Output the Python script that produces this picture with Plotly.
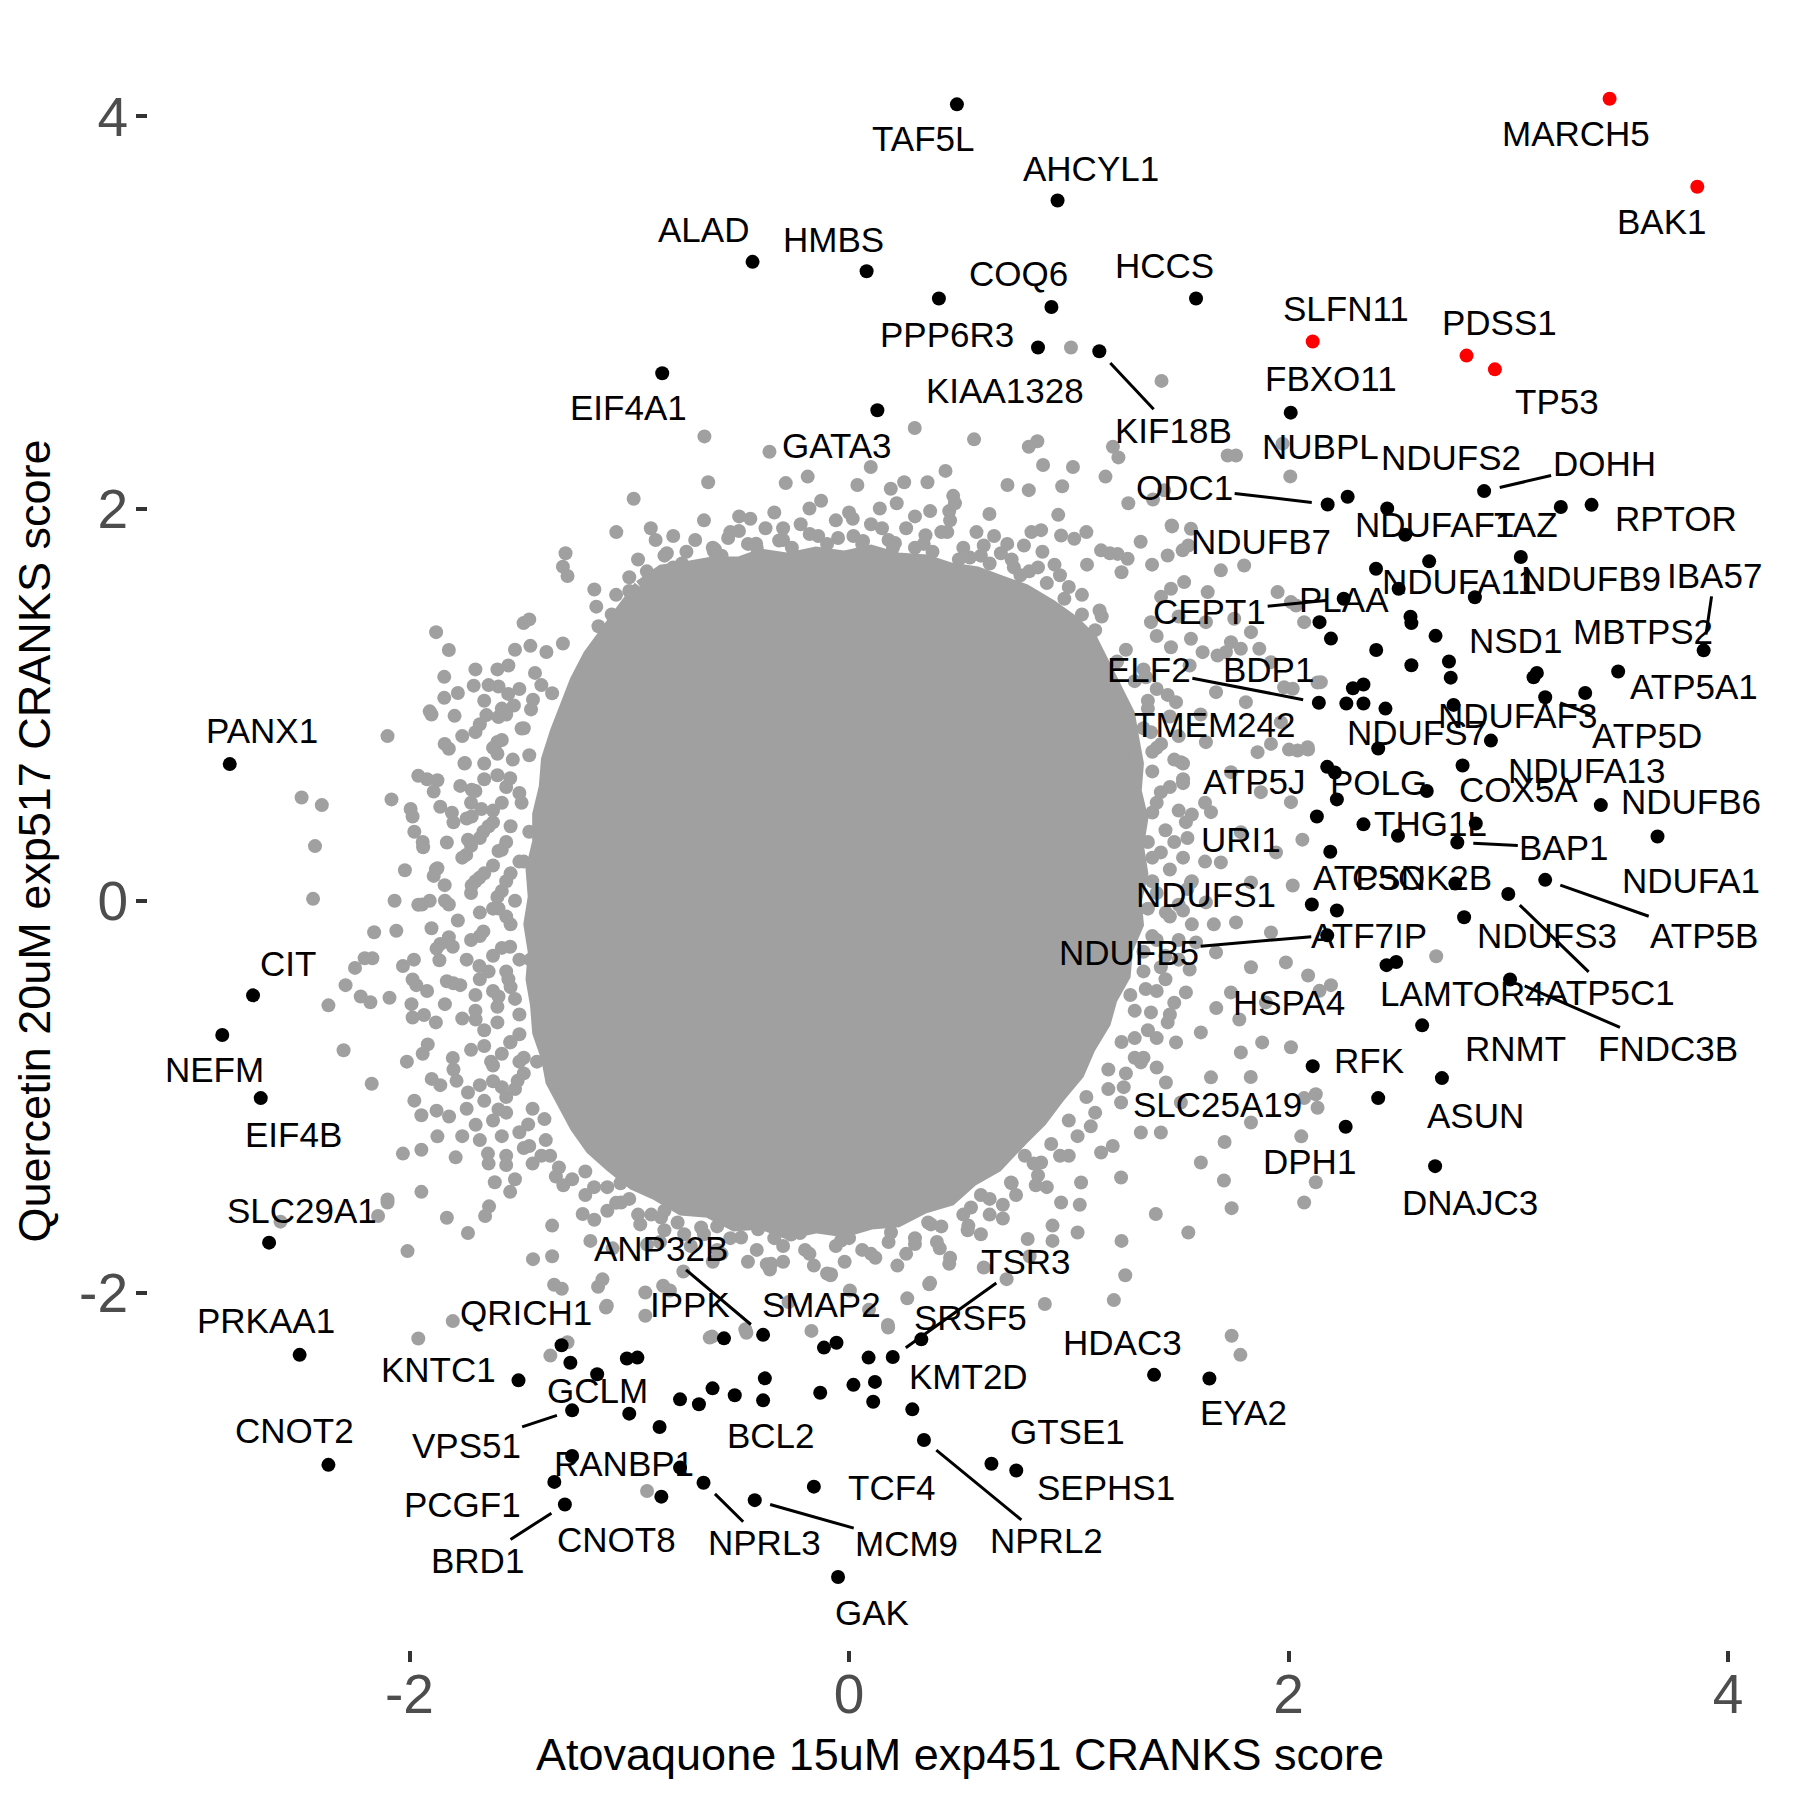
import plotly.graph_objects as go

# CRANKS scores
# x = Atovaquone 15uM exp451, y = Quercetin 20uM exp517

# highlighted genes (red)
sig_genes = ["MARCH5", "BAK1", "SLFN11", "PDSS1", "TP53"]
sig_x = [3.461, 3.860, 2.110, 2.810, 2.939]
sig_y = [4.090, 3.641, 2.852, 2.780, 2.710]

# labelled hits (black)
hit_genes = [
    "TAF5L", "AHCYL1", "ALAD", "HMBS", "COQ6", "PPP6R3", "KIAA1328", "KIF18B", "HCCS",
    "EIF4A1", "GATA3", "FBXO11", "NUBPL", "ODC1", "NDUFS2", "DOHH", "TAZ", "RPTOR",
    "NDUFAF1", "NDUFB7", "NDUFA11", "NDUFB9", "IBA57", "MBTPS2", "ATP5A1", "NSD1",
    "NDUFAF3", "ATP5D", "CEPT1", "PLAA", "ELF2", "BDP1", "TMEM242", "NDUFS7", "NDUFA13",
    "COX5A", "NDUFB6", "ATP5J", "POLG", "URI1", "THG1L", "BAP1", "NDUFA1", "ATP5B",
    "ATP5O", "CSNK2B", "NDUFS1", "ATF7IP", "NDUFB5", "NDUFS3", "ATP5C1", "LAMTOR4",
    "FNDC3B", "HSPA4", "RNMT", "RFK", "SLC25A19", "ASUN", "DPH1", "DNAJC3",
    "PANX1", "CIT", "NEFM", "EIF4B", "SLC29A1", "PRKAA1", "CNOT2", "KNTC1", "QRICH1",
    "GCLM", "VPS51", "RANBP1", "PCGF1", "BRD1", "CNOT8", "ANP32B", "IPPK", "SMAP2",
    "BCL2", "NPRL3", "MCM9", "TCF4", "GAK", "TSR3", "SRSF5", "KMT2D", "NPRL2", "GTSE1",
    "SEPHS1", "HDAC3", "EYA2",
]
hit_x = [
    0.491, 0.949, -0.439, 0.080, 0.921, 0.409, 0.860, 1.139, 1.579,
    -0.850, 0.129, 2.010, 2.269, 2.178, 2.449, 2.890, 3.239, 3.379,
    2.531, 2.398, 2.640, 3.057, 3.889, 3.350, 3.500, 3.130,
    2.751, 3.168, 2.251, 2.141, 2.138, 2.293, 2.263, 2.408, 2.921,
    2.792, 3.421, 2.176, 2.220, 2.129, 2.341, 2.768, 3.679, 3.168,
    2.190, 2.759, 2.106, 2.220, 2.176, 2.799, 3.000, 2.490,
    3.008, 2.446, 2.608, 2.408, 2.110, 2.698, 2.260, 2.667,
    -2.818, -2.712, -2.852, -2.677, -2.639, -2.500, -2.369, -1.504, -1.308,
    -1.268, -1.260, -1.260, -1.341, -1.293, -0.854, -0.391, -0.569, -0.114,
    -0.391, -0.662, -0.429, -0.160, -0.050, 0.199, 0.329, 0.288, 0.341, 0.648,
    0.761, 1.388, 1.640,
]
hit_y = [
    4.061, 3.571, 3.258, 3.210, 3.028, 3.071, 2.821, 2.802, 3.071,
    2.690, 2.501, 2.489, 2.060, 2.021, 2.001, 2.089, 2.008, 2.019,
    1.866, 1.693, 1.731, 1.753, 1.277, 1.060, 1.169, 1.162,
    0.999, 1.038, 1.540, 1.421, 1.010, 1.084, 1.006, 0.777, 0.817,
    0.690, 0.488, 0.683, 0.517, 0.430, 0.390, 0.297, 0.328, 0.107,
    0.250, 0.088, -0.019, -0.049, -0.176, -0.084, 0.035, -0.312,
    -0.401, -0.328, -0.635, -1.006, -0.843, -0.904, -1.152, -1.353,
    0.697, -0.482, -0.684, -1.006, -1.743, -2.315, -2.876, -2.445, -2.266,
    -2.355, -2.598, -2.831, -2.963, -3.078, -3.038, -2.213, -2.231, -2.278,
    -2.547, -2.967, -3.056, -2.987, -3.448, -2.326, -2.236, -2.593, -2.749, -2.870,
    -2.905, -2.417, -2.436,
]

# hits without a visible label (black)
other_hit_x = [
    2.193, 2.399, 2.501, 2.555, 2.559, 2.669, 2.559, 2.730, 2.738, 2.341, 2.341,
    2.441, 2.848, 3.115, 2.498, 2.852, 2.629, 2.211,
    -1.146, -1.011, -0.963, -1.000, -0.862, -0.769, -0.683, -0.621, -0.520, -0.383,
    -0.057, 0.089, -0.131, 0.020, 0.118, 0.110, -0.769,
]
other_hit_y = [
    1.337, 1.279, 1.591, 1.449, 1.416, 1.351, 1.201, 1.220, 1.138, 1.103, 1.006,
    0.980, 1.548, 1.140, 0.332, 0.394, 0.560, 0.654,
    -2.414, -2.334, -2.329, -2.615, -2.683, -2.542, -2.567, -2.486, -2.521, -2.435,
    -2.253, -2.329, -2.508, -2.468, -2.453, -2.554, -2.890,
]

# outline of the saturated centre of the gene cloud (grey)
core_x = [
    -0.95, -0.85, -0.72, -0.62, -0.50, -0.40, -0.28, -0.15, -0.02, 0.10, 0.22, 0.35,
    0.46, 0.58, 0.70, 0.80, 0.92, 1.02, 1.10, 1.16, 1.22, 1.27, 1.29, 1.31, 1.30, 1.33,
    1.31, 1.33, 1.30, 1.31, 1.26, 1.25, 1.19, 1.16, 1.09, 1.04, 0.95, 0.87, 0.78, 0.67,
    0.56, 0.46, 0.34, 0.22, 0.10, -0.02, -0.15, -0.28, -0.40, -0.52, -0.64, -0.76,
    -0.88, -0.98, -1.08, -1.17, -1.24, -1.30, -1.35, -1.37, -1.41, -1.42, -1.44, -1.43,
    -1.45, -1.43, -1.44, -1.41, -1.41, -1.38, -1.37, -1.33, -1.29, -1.24, -1.18, -1.10,
    -1.03,
]
core_y = [
    1.60, 1.68, 1.70, 1.72, 1.72, 1.76, 1.74, 1.77, 1.75, 1.78, 1.74, 1.73,
    1.69, 1.67, 1.62, 1.58, 1.50, 1.42, 1.33, 1.20, 1.08, 0.95, 0.82, 0.70, 0.56, 0.42,
    0.28, 0.14, 0.00, -0.12, -0.25, -0.38, -0.50, -0.62, -0.75, -0.88, -1.00, -1.12, -1.22, -1.35,
    -1.42, -1.52, -1.56, -1.63, -1.64, -1.68, -1.66, -1.69, -1.64, -1.65, -1.58, -1.57,
    -1.49, -1.44, -1.35, -1.26, -1.15, -1.04, -0.92, -0.80, -0.67, -0.53, -0.40, -0.26,
    -0.12, 0.02, 0.16, 0.30, 0.44, 0.58, 0.72, 0.86, 1.00, 1.12, 1.25, 1.36,
    1.48,
]

# individual non-hit genes around the centre (grey)
bg_x = [
    1.010, 1.422, 0.299, 0.569, 0.818, 0.857, 0.883, 1.019, 1.226, 1.201, 1.167, 0.970,
    0.818, 0.721, 0.439, 0.357, 0.251, 0.190, 0.099, 0.038, -0.188, -0.288, -0.362,
    -0.658, -0.641, -0.980, -1.059, -0.902, -0.829, -0.615, -0.449, -0.501, -0.127,
    0.017, 0.217, 0.369, 0.474, 0.482, 0.456, 0.639, 0.952, 0.830, 0.874, 1.080, 1.271,
    1.383, 1.470, 1.327, 1.379, 0.348, 0.447, 0.209, 0.064, -0.179, -0.318, -0.423,
    -0.610, -0.719, -0.902, 0.613, 0.691, 0.796, 0.935, 1.083, 1.187, 1.240, 1.544,
    -1.290, -1.302, -1.281, -1.159,
    -1.455, -1.481, -1.879, -1.821, -1.377, -1.302, -1.842, -1.708, -1.595, -1.551,
    -1.525, -1.429, -1.842, -1.908, -1.795, -1.650, -1.438, -1.447, -1.351, -2.100,
    -1.760, -1.821, -1.600, -1.748, -1.960, -1.873, -1.890, -1.769, -2.082, -2.491,
    -2.399, -1.995, -1.986, -1.807, -1.673, -2.430, -1.978, -1.938, -1.830, -1.734,
    -2.021, -1.873, -1.890, -2.068, -2.439, -1.943, -1.908, -1.839, -1.717, -2.161,
    -2.060, -2.204, -2.169, -2.248, -2.291, -2.369, -2.222, -2.178, -2.091, -2.030,
    -1.986, -1.969, -1.877, -1.864, -1.821, -1.830, -1.991, -1.986, -1.934, -1.839,
    -1.917, -1.803, -2.300, -2.012, -1.899, -1.786, -2.172, -1.978, -1.946, -1.877,
    -1.699, -1.595, -2.030, -1.946, -1.873, -1.790, -1.643, -1.560, -1.946, -2.100,
    -1.612, -1.542,
    -1.717, -1.664, -1.595, -1.682, -1.595, -1.664, -1.542, -1.682, -1.595, -1.699,
    -1.542, -1.629, -1.508, -1.734, -1.455, -1.542, -1.490, -1.595, -1.455, -1.420,
    -1.438, -1.420, -1.386, -1.420, -1.386, -1.455, -1.334, -1.803, -1.769, -1.821,
    -1.742, -1.717,
    -2.587, -2.143, -2.100, -1.830, -1.734, -1.656, -1.638, -2.009, -1.438, -1.351,
    -1.351, -1.342, -1.307, -1.803, -1.960, -1.177, -1.212, -1.159, -1.142, -1.281,
    -1.359, -1.122, -1.106, -0.927, -0.634, -0.472, -0.171, -0.927, -0.846, -0.374,
    -0.082, 0.178, 0.365, -0.919,
    1.544, 1.257, 1.205, 1.040, 0.891, 0.813, 0.717, 0.613, 0.456, 0.369, 0.413, 0.265,
    0.177, 0.091, 0.004, -0.084, -0.275, -0.354, -0.467, -0.623, -1.102, -0.754,
    -0.815, -1.076, -0.919, -0.414, -0.223, 0.021, 0.195, 0.543, 0.926, 0.926, 0.822,
    1.240, 1.396,
    1.741, 2.071, 1.741, 1.781,
    2.672, 2.071, 2.124, 2.132, 2.058, 1.709, 1.706, 2.124, 1.828, 1.880, 1.776, 1.671,
    2.193, 2.141, 2.089, 2.019, 2.063, 2.132, 2.002, 2.089,
    1.723, 1.761, 1.973, 2.008, 1.468, 1.556, 0.965, 1.025, 1.147, 1.222, 1.268, 1.450,
    1.518, 1.692, 1.798, 1.950, 1.525, 1.465, 1.632, 1.753, 2.071, 2.011, 2.034, 1.738,
    1.783, 1.867, 1.556, 1.609, 1.677, 2.147, 1.980, 2.019, 2.087, 2.041, 1.920, 1.859,
    1.434,
    1.624, 1.715, 1.829, 1.920, 1.670, 1.806, 1.965, 1.624, 1.738, 1.874, 2.011, 1.647,
    1.783, 1.943, 1.692, 1.829, 1.624, 1.761, 1.920, 1.670, 1.829, 1.988, 1.738, 1.897,
    1.601, 1.783, 2.011, 1.647, 1.510, 1.419, 1.601, 1.829,
    1.374, 1.465, 1.351, 1.488, 1.374, 1.510, 1.419, 1.533, 1.419, 1.556, 1.442, 1.579,
    1.419, 1.533, 1.374, 1.488, 1.328, 1.442, 1.238, 1.328, 1.147, 1.238, 1.056, 0.965,
    -1.037, -0.855, -0.673, -0.491, -0.264, -0.036, 0.191, 0.373, 0.555, 0.737, 0.874,
    1.42, 1.50, 1.40, 1.55, 1.45, 1.60, 1.40, 1.52, 1.62, 1.38, 1.48, 1.62, 1.38, 1.52,
    1.66, 1.40, 1.55, 1.35, 1.45, 1.30, 1.40, 1.25, 1.10, 1.00, 1.20, 0.85, 0.70, 1.05,
    -1.45, -1.55, -1.40, -1.60, -1.50, -1.62, -1.48, -1.58, -1.45, -1.55, -1.48, -1.58,
    -1.40, -1.30, -1.20, -1.10,
    -0.80, -0.55, -0.30, -0.05, 0.15, 0.30, 0.55, 0.75, 1.00, 1.15, -1.00, -1.15,
    -0.95, -0.60, -0.20, 0.10, 0.30, 0.60, -0.75,
    # dense fringe hugging the centre
    -1.52, -1.60, -1.50, -1.66, -1.56, -1.48, -1.70, -1.62, -1.53, -1.75, -1.66, -1.56,
    -1.49, -1.72, -1.62, -1.80, -1.54, -1.68, -1.58, -1.50, -1.76, -1.66, -1.56, -1.84,
    -1.72, -1.52, -1.62, -1.78, -1.54, -1.68, -1.58, -1.86, -1.50, -1.74, -1.64, -1.54,
    -1.80, -1.70, -1.60, -1.50, -1.76, -1.66, -1.54, -1.72, -1.62, -1.48, -1.80, -1.68,
    -1.56, -1.44, -1.74, -1.62, -1.50, -1.38, -1.68, -1.56, -1.44, -1.32,
    -1.00, -0.92, -0.84, -0.76, -0.70, -0.62, -0.54, -0.46, -0.38, -0.30, -0.22, -0.14,
    -0.06, 0.02, 0.10, 0.18, 0.26, 0.34, 0.42, 0.52, 0.60, 0.66, 0.74, 0.82, 0.90, 0.98,
    1.06, 1.12, 0.88, -0.80, -1.08, -1.14,
    1.22, 1.30, 1.36, 1.34, 1.42, 1.38, 1.46, 1.40, 1.44, 1.38, 1.46, 1.40, 1.46, 1.38,
    1.44, 1.34, 1.40, 1.30, 1.36, 1.24, 1.30, 1.18, 1.52, 1.56, 1.54, 1.50, 1.48,
    1.08, 1.00, 0.92, 0.84, 0.74, 0.64, 0.52, 0.42, 0.30, 0.18, 0.06, -0.06, -0.18, -0.30,
    -0.42, -0.54, -0.66, -0.78, -0.90, -1.00, -1.10, -1.20, 0.46, 0.22, -0.10, -0.36,
    -0.62, -0.86, 0.70, 0.90,
    # second fringe layer
    -1.90, -1.84, -1.92, -1.86, -1.94, -1.88, -1.96, -1.90, -1.98, -1.92, -1.88, -1.94,
    -1.86, -1.82, -1.76, -1.64, -1.52, -1.70, -1.78, -1.64, -1.58, -1.68, -1.58, -1.66,
    -1.60, -1.70, -1.58, -1.74, -1.64, -1.56, -1.72, -1.62, -1.54, -1.70, -1.60, -1.68,
    -1.56, -1.72, -1.62, -1.56, -1.68, -1.62, -1.52, -1.70, -1.60, -1.50, -1.66, -1.58,
    -1.50, -1.62, -1.52, -1.66, -1.56, -1.46, -1.58, -1.48, -1.36,
    -0.96, -0.88, -0.66, -0.50, -0.34, -0.18, 0.00, 0.14, 0.30, 0.46, 0.58, 0.72, 0.86,
    0.96, 1.06, 1.14, -0.58, -0.42, -0.26, -0.10, 0.06, 0.20, 0.38, 0.50, 0.64, 0.78,
    -0.74, -1.06,
    1.26, 1.34, 1.40, 1.46, 1.50, 1.48, 1.52, 1.50, 1.54, 1.52, 1.56, 1.50, 1.56, 1.50,
    1.44, 1.46, 1.40, 1.34, 1.26, 1.18, 1.36, 1.38, 1.36, 1.36, 1.34, 1.28,
    1.12, 1.04, 0.96, 0.86, 0.76, 0.64, 0.54, 0.40, 0.26, 0.12, -0.02, -0.16, -0.30,
    -0.46, -0.58, -0.72, -0.84, -0.96, -1.06, -1.16, -1.26, 0.80, 0.60, 0.36, 0.00,
    -0.34, -0.60, -0.84, -1.04,
]
bg_y = [
    2.821, 2.651, 2.411, 2.353, 2.315, 2.343, 2.222, 2.212, 2.261, 2.315, 2.163, 2.114,
    2.094, 2.120, 2.192, 2.134, 2.134, 2.101, 2.212, 2.120, 2.163, 2.130, 2.290,
    2.368, 2.134, 2.050, 1.880, 1.900, 1.772, 1.782, 1.948, 1.886, 2.040,
    1.948, 2.027, 1.987, 2.065, 2.027, 1.987, 1.972, 1.968, 1.880, 1.890, 1.880, 2.027,
    2.046, 1.909, 1.831, 1.714, 1.864, 1.880, 1.825, 1.835, 1.870, 1.837, 1.821,
    1.792, 1.665, 1.645, 1.812, 1.772, 1.812, 1.714, 1.714, 1.772, 1.675, 1.812,
    1.772, 1.704, 1.656, 1.587,
    1.435, 1.416, 1.370, 1.279, 1.269, 1.312, 1.142, 1.097, 1.093, 1.055,
    0.996, 1.162, 1.035, 0.966, 0.943, 0.947, 1.025, 0.976, 1.058, 0.840,
    0.840, 0.775, 0.810, 0.703, 0.638, 0.615, 0.557, 0.586, 0.517, 0.527,
    0.488, 0.468, 0.430, 0.449, 0.468, 0.279, 0.352, 0.273, 0.297, 0.312,
    0.156, 0.166, 0.127, 0.000, 0.010, -0.019, 0.000, 0.000, 0.078, -0.160,
    -0.153, -0.293, -0.293, -0.342, -0.430, -0.533, -0.488, -0.517, -0.494, -0.332,
    -0.401, -0.430, -0.244, -0.303, -0.186, -0.410, -0.527, -0.595, -0.582, -0.527,
    -0.732, -0.801, -0.762, -0.820, -0.908, -0.918, -0.933, -1.019, -1.093, -1.070,
    -1.142, -1.064, -1.289, -1.269, -1.201, -1.308, -1.289, -1.347, -1.484, -1.523,
    -1.435, -1.484,
    0.430, 0.352, 0.254, 0.117, -0.039, -0.156, -0.234, -0.332, -0.488, -0.605,
    -0.722, -0.820, -0.918, -0.977, 0.742, 0.625, 0.879, 0.937, 0.352, 0.059,
    -0.137, -0.430, -0.625, -0.820, -1.113, -1.250, -1.406, -0.234, -0.430, -0.019,
    0.234, 0.566,
    -1.636, -1.607, -1.538, -1.616, -1.694, -1.607, -1.558, -1.786, -1.827, -1.812,
    -1.656, -1.958, -1.978, -2.143, -2.232, -1.734, -1.597, -1.626, -1.968, -2.251,
    -2.319, -1.930, -2.074, -2.116, -2.227, -2.185, -2.193, -1.997, -1.963, -1.853,
    -1.904, -2.176, -1.955, -3.009,
    -1.691, -1.909, -2.036, -1.691, -2.056, -1.724, -1.929, -1.870, -1.851, -1.948, -1.772, -2.027,
    -2.163, -2.085, -1.987, -1.909, -2.046, -1.851, -2.202, -2.222, -2.065, -1.890,
    -1.987, -1.772, -1.753, -1.675, -1.694, -1.656, -1.616, -1.656, -1.656, -1.734, -1.812,
    -1.734, -1.597,
    -1.567, -1.538, -2.218, -2.315,
    -0.283, -1.006, -0.986, -1.055, -1.201, -1.230, -1.426, -1.435, -0.898, -0.722, -0.605, -0.547,
    -0.430, -0.459, -0.381, 0.078, 0.312, 1.113, 0.771, 0.771,
    2.271, 2.271, 2.331, 2.164, 1.914, 1.897, 1.863, 1.846, 1.787, 1.769, 1.744, 1.761,
    1.787, 1.685, 1.710, 1.574, 1.625, 1.591, 1.574, 1.438, 1.421, 1.523, 1.506, 1.319,
    1.285, 1.285, 1.336, 1.268, 1.251, 1.115, 1.089, 1.081, 0.783, 0.766, 0.800, 0.758,
    2.093,
    1.421, 1.268, 1.370, 1.217, 1.064, 1.013, 0.911, 0.809, 0.656, 0.554, 0.503, 0.452,
    0.350, 0.247, 0.196, 0.094, -0.008, -0.110, -0.161, -0.263, -0.339, -0.314, -0.467, -0.518,
    -0.671, -0.773, -0.747, -0.900, -1.028, -1.181, -1.334, -1.130,
    1.421, 1.293, 1.140, 1.013, 0.860, 0.707, 0.554, 0.401, 0.247, 0.094, -0.059, -0.212,
    -0.339, -0.467, -0.569, -0.722, -0.824, -0.926, -1.028, -1.181, -1.283, -1.411, -1.436, -1.538,
    -1.538, -1.615, -1.666, -1.717, -1.702, -1.732, -1.691, -1.650, -1.564, -1.436, -1.334,
    1.55, 1.45, 1.35, 1.20, 1.05, 0.95, 0.78, 0.62, 0.50, 0.45, 0.30, 0.20, 0.10, -0.05,
    -0.12, -0.20, -0.35, -0.45, -0.62, -0.70, -0.85, -0.95, -1.15, -1.30, -1.25, -1.45, -1.55, -1.55,
    1.30, 1.20, 1.10, 0.75, 0.55, 0.40, 0.20, 0.05, -0.30, -0.40, -0.80, -0.95,
    -1.30, -1.45, -1.50, -1.58,
    1.70, 1.85, 1.90, 1.85, 1.90, 1.80, 1.75, 1.70, 1.60, 1.45, 1.65, 1.50,
    -1.65, -1.78, -1.78, -1.80, -1.75, -1.70, -1.70,
    # dense fringe hugging the centre
    1.28, 1.18, 1.08, 1.02, 0.95, 0.88, 0.86, 0.78, 0.72, 0.70, 0.62, 0.58,
    0.50, 0.50, 0.46, 0.40, 0.38, 0.32, 0.26, 0.20, 0.22, 0.14, 0.10, 0.08,
    0.04, 0.00, -0.04, -0.10, -0.12, -0.18, -0.24, -0.22, -0.30, -0.30, -0.36, -0.44,
    -0.42, -0.48, -0.54, -0.58, -0.60, -0.66, -0.72, -0.76, -0.84, -0.88, -0.86, -0.94,
    -1.00, -1.06, -1.06, -1.12, -1.18, -1.22, -1.22, -1.30, -1.34, -1.36,
    1.58, 1.68, 1.76, 1.72, 1.84, 1.80, 1.88, 1.82, 1.90, 1.84, 1.92, 1.86,
    1.94, 1.86, 1.92, 1.84, 1.90, 1.82, 1.88, 1.80, 1.76, 1.86, 1.74, 1.68, 1.62, 1.54,
    1.46, 1.38, 1.78, 1.86, 1.46, 1.40,
    1.22, 1.12, 1.02, 0.88, 0.80, 0.66, 0.58, 0.50, 0.36, 0.22, 0.16, 0.04, -0.08, -0.18,
    -0.28, -0.36, -0.46, -0.56, -0.66, -0.72, -0.80, -0.86, 0.70, 0.44, 0.06, -0.20, -0.52,
    -1.00, -1.12, -1.24, -1.34, -1.44, -1.52, -1.60, -1.66, -1.72, -1.74, -1.78, -1.76, -1.80, -1.76,
    -1.78, -1.72, -1.70, -1.64, -1.60, -1.52, -1.46, -1.38, -1.82, -1.86, -1.90, -1.88,
    -1.84, -1.74, -1.62, -1.46,
    # second fringe layer
    0.95, 0.80, 0.62, 0.48, 0.30, 0.16, -0.02, -0.14, -0.30, -0.46, -0.62, -0.78,
    -0.94, -1.10, -1.20, -1.34, -1.42, 1.18, 1.06, 1.10, 0.98, 0.90, 0.82, 0.70,
    0.64, 0.56, 0.50, 0.42, 0.38, 0.30, 0.28, 0.18, 0.14, 0.10, 0.02, -0.06,
    -0.08, -0.20, -0.28, -0.36, -0.40, -0.46, -0.50, -0.56, -0.62, -0.68, -0.74, -0.78,
    -0.82, -0.92, -0.96, -1.02, -1.08, -1.14, -1.20, -1.26, -1.30,
    1.74, 1.84, 1.94, 1.96, 1.98, 2.00, 1.98, 2.00, 1.96, 1.94, 1.88, 1.82, 1.70,
    1.66, 1.56, 1.48, 1.76, 1.80, 1.80, 1.82, 1.82, 1.80, 1.78, 1.74, 1.72, 1.66,
    1.78, 1.56,
    1.28, 1.18, 1.08, 0.94, 0.84, 0.72, 0.60, 0.46, 0.32, 0.22, 0.10, -0.02, -0.12, -0.30,
    -0.40, -0.58, -0.70, -0.80, -0.88, -0.96, 0.98, 0.76, 0.30, -0.04, -0.26, -0.48,
    -1.08, -1.20, -1.30, -1.40, -1.50, -1.60, -1.68, -1.74, -1.80, -1.82, -1.84, -1.86, -1.84,
    -1.84, -1.80, -1.76, -1.68, -1.60, -1.54, -1.46, -1.42, -1.30, -1.50, -1.64, -1.72,
    -1.72, -1.66, -1.58, -1.44,
]

# label placement (pixel offsets from the point, ggrepel style) and leader segments
label_offsets = {
    "MARCH5": (-34, 35, False), "BAK1": (-35, 35, False), "SLFN11": (33, -33, False),
    "PDSS1": (33, -33, False), "TP53": (62, 32, False),
    "TAF5L": (-34, 34, False), "AHCYL1": (33, -32, False), "ALAD": (-49, -32, False),
    "HMBS": (-33, -32, False), "COQ6": (-33, -33, False), "PPP6R3": (8, 36, False),
    "KIAA1328": (-33, 43, False), "KIF18B": (74, 79, True), "HCCS": (-32, -33, False),
    "EIF4A1": (-34, 34, False), "GATA3": (-40, 35, False), "FBXO11": (40, -34, False),
    "NUBPL": (-27, -50, False), "ODC1": (-143, -17, True), "NDUFS2": (64, -51, False),
    "DOHH": (120, -28, True), "TAZ": (-35, 17, False), "RPTOR": (84, 14, False),
    "NDUFAF1": (29, -10, False), "NDUFB7": (-115, -27, False), "NDUFA11": (30, 20, False),
    "NDUFB9": (70, 21, False), "IBA57": (11, -75, True), "MBTPS2": (58, -61, False),
    "ATP5A1": (76, 15, False), "NSD1": (-21, -32, False), "NDUFAF3": (64, 11, False),
    "ATP5D": (102, 38, True), "CEPT1": (-134, 13, True), "PLAA": (24, -23, False),
    "ELF2": (-170, -33, True), "BDP1": (-84, -19, False), "TMEM242": (-132, 21, False),
    "NDUFS7": (39, -16, False), "NDUFA13": (96, 30, False), "COX5A": (56, 24, False),
    "NDUFB6": (90, -4, False), "ATP5J": (-73, 15, False), "POLG": (42, -17, False),
    "URI1": (-76, 23, False), "THG1L": (67, -1, False), "BAP1": (107, 5, True),
    "NDUFA1": (33, 44, False), "ATP5B": (159, 56, True), "ATP5O": (39, 26, False),
    "CSNK2B": (-33, -6, False), "NDUFS1": (-106, -10, False), "ATF7IP": (32, 25, False),
    "NDUFB5": (-198, 17, True), "NDUFS3": (83, 18, False), "ATP5C1": (102, 99, True),
    "LAMTOR4": (66, 31, False), "FNDC3B": (158, 69, True), "HSPA4": (-98, 37, False),
    "RNMT": (93, 23, False), "RFK": (-9, -38, False), "SLC25A19": (-95, 38, False),
    "ASUN": (34, 37, False), "DPH1": (-36, 35, False), "DNAJC3": (35, 36, False),
    "PANX1": (32, -34, False), "CIT": (35, -32, False), "NEFM": (-8, 35, False),
    "EIF4B": (33, 36, False), "SLC29A1": (33, -32, False), "PRKAA1": (-34, -34, False),
    "CNOT2": (-34, -34, False), "KNTC1": (-80, -11, False), "QRICH1": (-36, -33, False),
    "GCLM": (27, 28, False), "VPS51": (-106, 35, True), "RANBP1": (52, 7, False),
    "PCGF1": (-92, 23, False), "BRD1": (-87, 56, True), "CNOT8": (-45, 43, False),
    "ANP32B": (-102, -86, True), "IPPK": (-34, -34, False), "SMAP2": (-2, -43, False),
    "BCL2": (8, 35, False), "NPRL3": (61, 60, True), "MCM9": (152, 43, True),
    "TCF4": (78, 1, False), "GAK": (34, 35, False), "TSR3": (133, -95, True),
    "SRSF5": (49, -22, False), "KMT2D": (56, -33, False), "NPRL2": (123, 101, True),
    "GTSE1": (76, -32, False), "SEPHS1": (90, 17, False), "HDAC3": (-32, -32, False),
    "EYA2": (34, 34, False),
}

GREY = "#a0a0a0"
FONT = "Liberation Sans, Arial, Helvetica, sans-serif"

fig = go.Figure()

fig.add_trace(go.Scatter(
    x=core_x + core_x[:1], y=core_y + core_y[:1],
    mode="lines", fill="toself", fillcolor=GREY,
    line=dict(color=GREY, width=14), hoverinfo="skip",
))
fig.add_trace(go.Scatter(
    x=bg_x, y=bg_y, mode="markers",
    marker=dict(size=14, color=GREY, line=dict(width=0)), hoverinfo="skip",
))
fig.add_trace(go.Scatter(
    x=other_hit_x, y=other_hit_y, mode="markers",
    marker=dict(size=14, color="black", line=dict(width=0)),
))
fig.add_trace(go.Scatter(
    x=hit_x, y=hit_y, mode="markers", text=hit_genes,
    marker=dict(size=14, color="black", line=dict(width=0)),
))
fig.add_trace(go.Scatter(
    x=sig_x, y=sig_y, mode="markers", text=sig_genes,
    marker=dict(size=14, color="#ff0000", line=dict(width=0)),
))

for names, xs, ys in [(hit_genes, hit_x, hit_y), (sig_genes, sig_x, sig_y)]:
    for name, x, y in zip(names, xs, ys):
        dx, dy, seg = label_offsets[name]
        fig.add_annotation(
            x=x, y=y, text=name, ax=dx, ay=dy,
            showarrow=True, arrowhead=0, arrowwidth=3,
            arrowcolor="black" if seg else "rgba(0,0,0,0)",
            standoff=16,
            font=dict(family=FONT, size=35, color="black"),
        )

fig.update_layout(
    template="none",
    width=1800, height=1800,
    margin=dict(l=140, r=36, t=24, b=158),
    paper_bgcolor="white", plot_bgcolor="white",
    showlegend=False,
    font=dict(family=FONT),
    xaxis=dict(
        range=[-3.19, 4.20], tickvals=[-2, 0, 2, 4], ticktext=["-2", "0", "2", "4"],
        ticks="outside", ticklen=11, tickwidth=3.5, tickcolor="#333333",
        ticklabelstandoff=-15,
        tickfont=dict(size=55, color="#4d4d4d", family=FONT),
        showgrid=False, zeroline=False, showline=False, automargin=False,
        title=dict(text="Atovaquone 15uM exp451 CRANKS score",
                   font=dict(size=45, color="black", family=FONT), standoff=14),
    ),
    yaxis=dict(
        range=[-3.82, 4.43], tickvals=[-2, 0, 2, 4], ticktext=["-2", "0", "2", "4"],
        ticks="outside", ticklen=11, tickwidth=3.5, tickcolor="#333333",
        ticklabelstandoff=-3,
        tickfont=dict(size=55, color="#4d4d4d", family=FONT),
        showgrid=False, zeroline=False, showline=False, automargin=False,
        title=dict(text="Quercetin 20uM exp517 CRANKS score",
                   font=dict(size=45, color="black", family=FONT), standoff=14),
    ),
)

fig.write_html("out.html")
